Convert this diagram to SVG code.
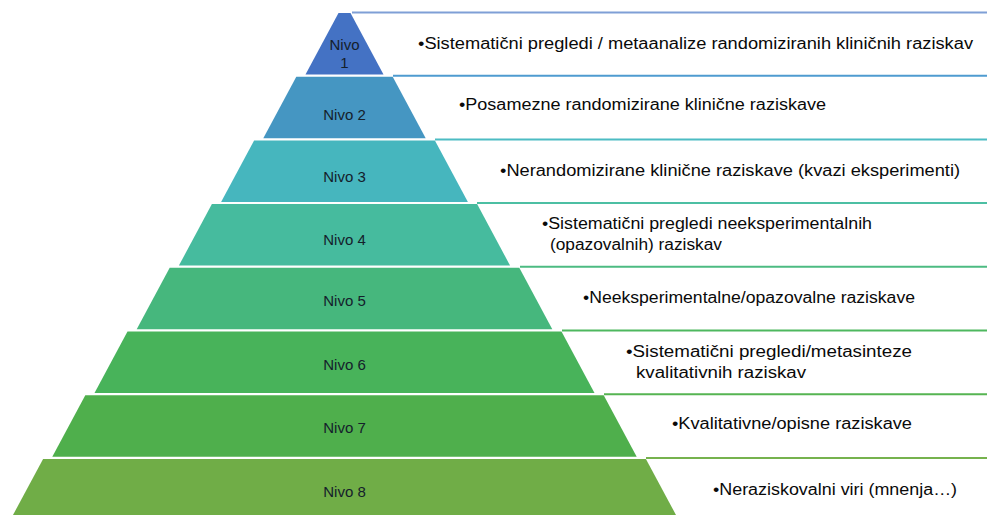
<svg xmlns="http://www.w3.org/2000/svg" width="987" height="515" viewBox="0 0 987 515">
<style>
.lvl{font-family:"Liberation Sans","Arial",sans-serif;font-size:15px;fill:#14202b;text-anchor:middle}
.desc{font-family:"Liberation Sans","Arial",sans-serif;font-size:16px;fill:#0a0a0a}
.ln{stroke-width:2;fill:none}
</style>
<rect width="987" height="515" fill="#ffffff"/>
<g id="connectors"></g>
<g id="level1">
<line class="ln" x1="352" y1="12.5" x2="987" y2="12.5" stroke="#7f9fd6"/>
<polygon points="338.5,13 350.5,13 383.5,74.5 305.5,74.5" fill="#4472c4"/>
<text class="lvl" x="344.5" y="50">Nivo</text>
<text class="lvl" x="344.5" y="68">1</text>
<text class="desc" x="418" y="49" textLength="555" lengthAdjust="spacingAndGlyphs">•Sistematični pregledi / metaanalize randomiziranih kliničnih raziskav</text>
</g>
<g id="level2">
<line class="ln" x1="393" y1="75.7" x2="987" y2="75.7" stroke="#4e9bd0"/>
<polygon points="296.3,76.7 392.7,76.7 425.7,138.2 263.3,138.2" fill="#4596c2"/>
<text class="lvl" x="344.5" y="120">Nivo 2</text>
<text class="desc" x="459" y="110" textLength="367" lengthAdjust="spacingAndGlyphs">•Posamezne randomizirane klinične raziskave</text>
</g>
<g id="level3">
<line class="ln" x1="435" y1="139.4" x2="987" y2="139.4" stroke="#4cbcc3"/>
<polygon points="254.1,140.4 434.9,140.4 467.9,201.9 221.1,201.9" fill="#46b6be"/>
<text class="lvl" x="344.5" y="182">Nivo 3</text>
<text class="desc" x="500" y="176" textLength="460" lengthAdjust="spacingAndGlyphs">•Nerandomizirane klinične raziskave (kvazi eksperimenti)</text>
</g>
<g id="level4">
<line class="ln" x1="477" y1="203.1" x2="987" y2="203.1" stroke="#4cbfa3"/>
<polygon points="211.9,204.1 477.1,204.1 510.1,265.6 178.9,265.6" fill="#46bb9e"/>
<text class="lvl" x="344.5" y="245">Nivo 4</text>
<text class="desc" x="542" y="229" textLength="330" lengthAdjust="spacingAndGlyphs">•Sistematični pregledi neeksperimentalnih</text>
<text class="desc" x="550" y="250" textLength="172" lengthAdjust="spacingAndGlyphs">(opazovalnih) raziskav</text>
</g>
<g id="level5">
<line class="ln" x1="520" y1="266.8" x2="987" y2="266.8" stroke="#4cbb82"/>
<polygon points="169.7,267.8 519.3,267.8 552.3,329.3 136.7,329.3" fill="#46b77d"/>
<text class="lvl" x="344.5" y="306">Nivo 5</text>
<text class="desc" x="583" y="303" textLength="332" lengthAdjust="spacingAndGlyphs">•Neeksperimentalne/opazovalne raziskave</text>
</g>
<g id="level6">
<line class="ln" x1="562" y1="330.5" x2="987" y2="330.5" stroke="#4eb85f"/>
<polygon points="127.5,331.5 561.5,331.5 594.5,393 94.5,393" fill="#48b35a"/>
<text class="lvl" x="344.5" y="370">Nivo 6</text>
<text class="desc" x="626" y="357" textLength="286" lengthAdjust="spacingAndGlyphs">•Sistematični pregledi/metasinteze</text>
<text class="desc" x="636" y="378" textLength="170" lengthAdjust="spacingAndGlyphs">kvalitativnih raziskav</text>
</g>
<g id="level7">
<line class="ln" x1="604" y1="394.2" x2="987" y2="394.2" stroke="#56b452"/>
<polygon points="85.3,395.2 603.7,395.2 636.7,456.7 52.3,456.7" fill="#4faf4c"/>
<text class="lvl" x="344.5" y="433">Nivo 7</text>
<text class="desc" x="672" y="429" textLength="240" lengthAdjust="spacingAndGlyphs">•Kvalitativne/opisne raziskave</text>
</g>
<g id="level8">
<line class="ln" x1="646" y1="457.9" x2="987" y2="457.9" stroke="#76b24d"/>
<polygon points="43.1,458.9 645.9,458.9 678.9,520.4 10.1,520.4" fill="#70ad47"/>
<text class="lvl" x="344.5" y="497">Nivo 8</text>
<text class="desc" x="713" y="495" textLength="244" lengthAdjust="spacingAndGlyphs">•Neraziskovalni viri (mnenja…)</text>
</g>
</svg>
